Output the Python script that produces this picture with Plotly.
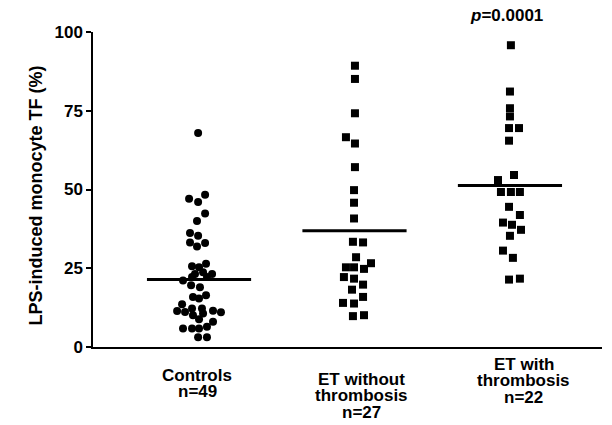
import plotly.graph_objects as go

# ---------------- data ----------------
groups = ["Controls", "ET without thrombosis", "ET with thrombosis"]
group_label_lines = [["Controls", "n=49"],
                     ["ET without", "thrombosis", "n=27"],
                     ["ET with", "thrombosis", "n=22"]]

controls = [67.9, 47.1, 46.0, 48.3, 42.4, 40.0, 36.2, 35.3, 33.2, 33.0, 31.9,
            25.6, 25.3, 26.4, 23.2, 23.7, 23.2, 21.1, 22.2, 22.2, 19.6, 19.0,
            15.9, 15.4, 16.4, 13.6, 11.4, 11.1, 12.2, 12.2, 10.1, 10.6, 11.5,
            11.0, 8.8, 8.0, 5.9, 5.9, 5.9, 6.4, 3.1, 3.1]
controls_jitter = [-0.006, -0.064, -0.006, 0.039, 0.039, -0.013, -0.058, -0.006, -0.058, 0.039, -0.013,
                   -0.045, 0.0, 0.045, -0.026, 0.026, 0.084, -0.103, -0.045, 0.051, -0.051, 0.006,
                   -0.039, 0.0, 0.045, -0.109, -0.141, -0.090, -0.045, 0.019, -0.039, 0.026, 0.090,
                   0.141, 0.0, 0.090, -0.103, -0.045, 0.0, 0.051, -0.006, 0.051]

et_without = [89.3, 85.1, 74.2, 66.6, 64.6, 57.1, 49.8, 45.8, 40.8, 33.4, 33.2,
              28.5, 26.6, 25.3, 25.3, 24.8, 22.2, 21.7, 19.8, 18.2, 15.9, 14.0,
              13.8, 9.8, 10.1]
et_without_jitter = [0.003, 0.003, 0.003, -0.055, 0.003, 0.003, -0.003, -0.003, -0.003, -0.010, 0.055,
                     0.010, 0.106, -0.055, -0.003, 0.061, -0.068, -0.003, 0.055, -0.016, 0.055, -0.074,
                     -0.003, -0.010, 0.061]

et_with = [95.8, 81.1, 75.8, 73.2, 69.5, 69.5, 65.5, 54.6, 53.0, 49.2, 49.2,
           49.2, 44.5, 41.9, 39.5, 38.8, 37.2, 35.3, 30.6, 28.3, 21.4, 21.7]
et_with_jitter = [0.006, 0.0, 0.0, 0.0, -0.006, 0.058, -0.006, 0.026, -0.077, -0.058, 0.006,
                  0.064, -0.006, 0.064, -0.045, 0.013, 0.071, 0.0, -0.045, 0.019, -0.006, 0.064]

medians = [21.4, 36.9, 51.3]
p_text = "<i>p</i>=0.0001"

y_ticks = [0, 25, 50, 75, 100]
y_title = "LPS-induced monocyte TF (%)"

# ---------------- figure ----------------
FONT = "Liberation Sans, Arial, sans-serif"
fig = go.Figure()

series = [(controls, controls_jitter, "circle"),
          (et_without, et_without_jitter, "square"),
          (et_with, et_with_jitter, "square")]
for i, (vals, jit, sym) in enumerate(series):
    fig.add_trace(go.Scatter(
        x=[i + j for j in jit], y=vals, mode="markers",
        marker=dict(symbol=sym, size=8, color="black", line=dict(width=0)),
        cliponaxis=False, showlegend=False, hoverinfo="y"))

for i, m in enumerate(medians):
    fig.add_trace(go.Scatter(
        x=[i - 0.335, i + 0.335], y=[m, m], mode="lines",
        line=dict(color="black", width=3), showlegend=False, hoverinfo="skip"))

# vertical pixel centres (below the x axis) of each label line, and horizontal nudges
label_first_line = [28, 32, 17]
label_xshift = [-2, 7, 14]
LINE_STEP = 16.5
annotations = []
for i, lines in enumerate(group_label_lines):
    for k, line in enumerate(lines):
        annotations.append(dict(
            x=i, y=0, xref="x", yref="paper", text="<b>" + line + "</b>",
            showarrow=False, yanchor="middle", xanchor="center",
            yshift=-(label_first_line[i] + k * LINE_STEP), xshift=label_xshift[i],
            font=dict(family=FONT, size=17, color="black")))
annotations.append(dict(
    x=2, y=1, xref="x", yref="paper", text="<b>" + p_text + "</b>",
    showarrow=False, yanchor="middle", xanchor="center", yshift=17, xshift=-3,
    font=dict(family=FONT, size=17, color="black")))
annotations.append(dict(
    x=0, y=0.5, xref="paper", yref="paper", text="<b>" + y_title + "</b>",
    showarrow=False, textangle=-90, xanchor="center", yanchor="middle",
    xshift=-58, yshift=-6,
    font=dict(family=FONT, size=18, color="black")))

fig.update_layout(
    width=612, height=425,
    margin=dict(l=93, r=10, t=32, b=78),
    paper_bgcolor="white", plot_bgcolor="white",
    annotations=annotations,
    xaxis=dict(range=[-0.682, 2.592], showticklabels=False, ticks="",
               showgrid=False, zeroline=False, showline=True,
               linecolor="black", linewidth=1.5),
    yaxis=dict(range=[0, 100], tickvals=y_ticks,
               ticktext=["<b>%d</b>" % t for t in y_ticks],
               ticks="outside", ticklen=5,
               tickwidth=1.5, tickcolor="black",
               tickfont=dict(family=FONT, size=17, color="black"),
               showgrid=False, zeroline=False, showline=True,
               linecolor="black", linewidth=1.5),
)

fig.write_html("out.html")
